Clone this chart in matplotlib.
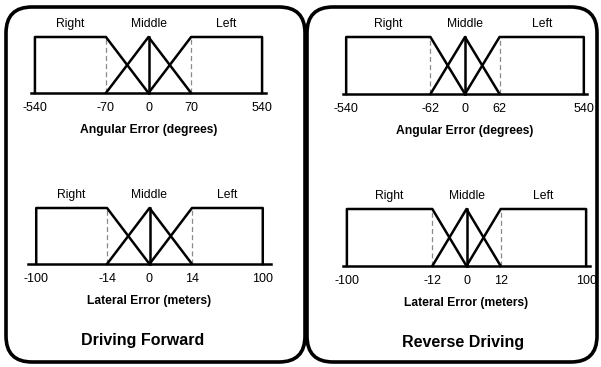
import numpy as np
import matplotlib
matplotlib.use("Agg")
import matplotlib.pyplot as plt
from matplotlib.patches import FancyBboxPatch

plt.rcParams['font.family'] = ['Liberation Sans', 'DejaVu Sans']

# breakpoints of the fuzzy sets (values shown under each axis)
angular_fwd = [-540, -70, 0, 70, 540]
lateral_fwd = [-100, -14, 0, 14, 100]
angular_rev = [-540, -62, 0, 62, 540]
lateral_rev = [-100, -12, 0, 12, 100]
set_names = ["Right", "Middle", "Left"]
axis_names = ["Angular Error (degrees)", "Lateral Error (meters)"]
panel_titles = ["Driving Forward", "Reverse Driving"]

W, H = 601, 367


def make_scale(bp, r):
    # schematic axis: outer segments 1 unit, inner segments r units
    pos = np.array([0, 1, 1 + r, 1 + 2 * r, 2 + 2 * r], float)
    bp = np.array(bp, float)
    s_lo = (pos[1] - pos[0]) / (bp[1] - bp[0])
    s_hi = (pos[4] - pos[3]) / (bp[4] - bp[3])

    def fwd(x):
        x = np.asarray(x, float)
        y = np.interp(x, bp, pos)
        y = np.where(x < bp[0], pos[0] + (x - bp[0]) * s_lo, y)
        y = np.where(x > bp[-1], pos[-1] + (x - bp[-1]) * s_hi, y)
        return y

    def inv(y):
        y = np.asarray(y, float)
        x = np.interp(y, pos, bp)
        x = np.where(y < pos[0], bp[0] + (y - pos[0]) / s_lo, x)
        x = np.where(y > pos[-1], bp[-1] + (y - pos[-1]) / s_hi, x)
        return x

    return fwd, inv


def draw_sets(box, bp, lim, r, xlabel):
    a, b, top, base = box
    ax = fig.add_axes([a / W, 1 - base / H, (b - a) / W, (base - top) / H])
    fwd, inv = make_scale(bp, r)
    ax.set_xscale('function', functions=(fwd, inv))
    ax.set_xlim(-lim, lim)
    ax.set_ylim(0, 1)
    ax.patch.set_alpha(0)
    for s in ['top', 'left', 'right']:
        ax.spines[s].set_visible(False)
    ax.spines['bottom'].set_linewidth(1.8)

    lw = 1.8
    # Right
    ax.plot([bp[0], bp[0], bp[1], bp[2]], [0, 1, 1, 0], color='black', lw=lw, clip_on=False)
    # Middle
    ax.plot([bp[1], bp[2], bp[3]], [0, 1, 0], color='black', lw=lw, clip_on=False)
    ax.plot([bp[2], bp[2]], [0, 1], color='black', lw=lw, clip_on=False)
    # Left
    ax.plot([bp[2], bp[3], bp[4], bp[4]], [0, 1, 1, 0], color='black', lw=lw, clip_on=False)
    for v in (bp[1], bp[3]):
        ax.plot([v, v], [0, 1], color='#8a8a8a', lw=0.9, ls=(0, (4, 2.5)), zorder=1)

    label_x = [(bp[0] + bp[1]) / 2, bp[2], (bp[3] + bp[4]) / 2]
    for name, x in zip(set_names, label_x):
        ax.annotate(name, (x, 1), xytext=(0, 9.5), textcoords='offset points',
                    ha='center', va='center', fontsize=8.7)

    ax.set_xticks(bp)
    ax.set_xticklabels([str(v) for v in bp])
    ax.set_yticks([])
    ax.tick_params(axis='x', length=0, pad=6.5, labelsize=9)
    ax.set_xlabel(xlabel, fontsize=8.7, fontweight='bold', labelpad=7)
    return ax


fig = plt.figure(figsize=(W / 100, H / 100), dpi=100)
fig.patch.set_facecolor('white')

bg = fig.add_axes([0, 0, 1, 1])
bg.set_xlim(0, W)
bg.set_ylim(H, 0)
bg.axis('off')
for x0, x1 in [(6, 305), (307, 597)]:
    bg.add_patch(FancyBboxPatch((x0, 7), x1 - x0, 355,
                                boxstyle="round,pad=0,rounding_size=26",
                                fill=False, ec='black', lw=2.6))

draw_sets((31, 266, 37, 93), angular_fwd, 566, 0.6, axis_names[0])
draw_sets((28, 271, 208, 264), lateral_fwd, 110, 0.6, axis_names[1])
draw_sets((343, 587, 37, 94), angular_rev, 558, 0.41, axis_names[0])
draw_sets((343, 590, 209, 266), lateral_rev, 104, 0.4, axis_names[1])

fig.text(143 / W, 1 - 341 / H, panel_titles[0], ha='center', va='center',
         fontsize=11.5, fontweight='bold')
fig.text(463 / W, 1 - 343 / H, panel_titles[1], ha='center', va='center',
         fontsize=11.5, fontweight='bold')

fig.savefig('out.png', dpi=100)
